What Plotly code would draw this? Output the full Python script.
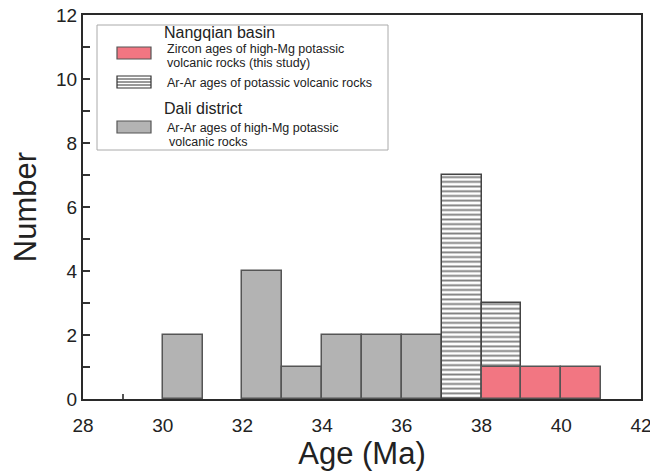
import plotly.graph_objects as go

# ---- data ----
dali_bin_start = [30, 32, 33, 34, 35, 36]
dali_counts = [2, 4, 1, 2, 2, 2]
arar_bin_start = [37, 38]
arar_counts = [7, 3]
zircon_bin_start = [38, 39, 40]
zircon_counts = [1, 1, 1]

x_ticks = [28, 30, 32, 34, 36, 38, 40, 42]
y_ticks = [0, 2, 4, 6, 8, 10, 12]

GRAY = "#b3b3b3"
PINK = "#f27682"
EDGE = "#555555"
FONT = "Liberation Sans, Arial, sans-serif"

fig = go.Figure()
fig.add_trace(go.Bar(x=dali_bin_start, y=dali_counts, width=1, offset=0,
                     marker=dict(color=GRAY, line=dict(color=EDGE, width=1.5)),
                     showlegend=False))
fig.add_trace(go.Bar(x=arar_bin_start, y=arar_counts, width=1, offset=0,
                     marker=dict(color="white", line=dict(color="#444", width=1.5),
                                 pattern=dict(shape="-", size=4.7, solidity=0.4,
                                              fgcolor="#000", bgcolor="white")),
                     showlegend=False))
fig.add_trace(go.Bar(x=zircon_bin_start, y=zircon_counts, width=1, offset=0,
                     marker=dict(color=PINK, line=dict(color=EDGE, width=1.5)),
                     showlegend=False))

# plot area in pixels
L, R, T, B = 83, 641, 15, 399
W, H = R - L, B - T


def px(x):
    return (x - L) / W


def py(y):
    return (B - y) / H


shapes = []
annotations = []

# legend box
shapes.append(dict(type="rect", xref="paper", yref="paper", x0=px(97), x1=px(388),
                   y0=py(25), y1=py(150), line=dict(color="#aaaaaa", width=1),
                   fillcolor="white", layer="above"))
# pink swatch
shapes.append(dict(type="rect", xref="paper", yref="paper", x0=px(117), x1=px(151),
                   y0=py(47), y1=py(59), line=dict(color=EDGE, width=1.2),
                   fillcolor=PINK, layer="above"))
# hatched swatch
shapes.append(dict(type="rect", xref="paper", yref="paper", x0=px(117), x1=px(151),
                   y0=py(76), y1=py(88), line=dict(color="#333", width=1.2),
                   fillcolor="white", layer="above"))
for yy in [79, 82, 85]:
    shapes.append(dict(type="line", xref="paper", yref="paper", x0=px(117), x1=px(151),
                       y0=py(yy), y1=py(yy), line=dict(color="#333", width=1),
                       layer="above"))
# gray swatch
shapes.append(dict(type="rect", xref="paper", yref="paper", x0=px(117), x1=px(151),
                   y0=py(121), y1=py(133), line=dict(color=EDGE, width=1.2),
                   fillcolor=GRAY, layer="above"))


def txt(x, y, s, size):
    annotations.append(dict(x=px(x), y=py(y), xref="paper", yref="paper", text=s,
                            showarrow=False, xanchor="left", yanchor="middle",
                            font=dict(family=FONT, size=size, color="#222")))


txt(162, 32, "Nangqian basin", 16)
txt(165, 49, "Zircon ages of high-Mg potassic", 12.5)
txt(165, 63, "volcanic rocks (this study)", 12.5)
txt(165, 83, "Ar-Ar ages of potassic volcanic rocks", 12.5)
txt(162, 109, "Dali district", 16)
txt(165, 128, "Ar-Ar ages of high-Mg potassic", 12.5)
txt(167, 142, "volcanic rocks", 12.5)

fig.update_layout(
    width=650, height=473,
    margin=dict(l=L, r=650 - R, t=T, b=473 - B),
    paper_bgcolor="white", plot_bgcolor="white",
    barmode="overlay", bargap=0,
    shapes=shapes, annotations=annotations,
    font=dict(family=FONT, color="#222"),
)
fig.update_xaxes(
    range=[28, 42], tickvals=x_ticks, ticks="", showgrid=False, zeroline=False,
    automargin=False, ticklabeloverflow="allow",
    showline=True, linecolor="#2a2a2a", linewidth=2, mirror=True,
    tickfont=dict(size=19, color="#222"), ticklabelstandoff=8,
    minor=dict(tickvals=[29], ticks="inside", ticklen=5, tickcolor="#555", tickwidth=1.5),
    title=dict(text="Age (Ma)", font=dict(size=31, color="#222"), standoff=8),
)
fig.update_yaxes(
    range=[0, 12], tickvals=y_ticks, ticks="inside", ticklen=7, tickwidth=1.5,
    tickcolor="#333", showgrid=False, zeroline=False, automargin=False,
    ticklabeloverflow="allow",
    showline=True, linecolor="#2a2a2a", linewidth=2, mirror=True,
    tickfont=dict(size=19, color="#222"),
    minor=dict(dtick=1, ticks="inside", ticklen=7, tickcolor="#333", tickwidth=1.5),
    title=dict(text="Number", font=dict(size=31, color="#222"), standoff=10),
)

fig.write_html("out.html")
